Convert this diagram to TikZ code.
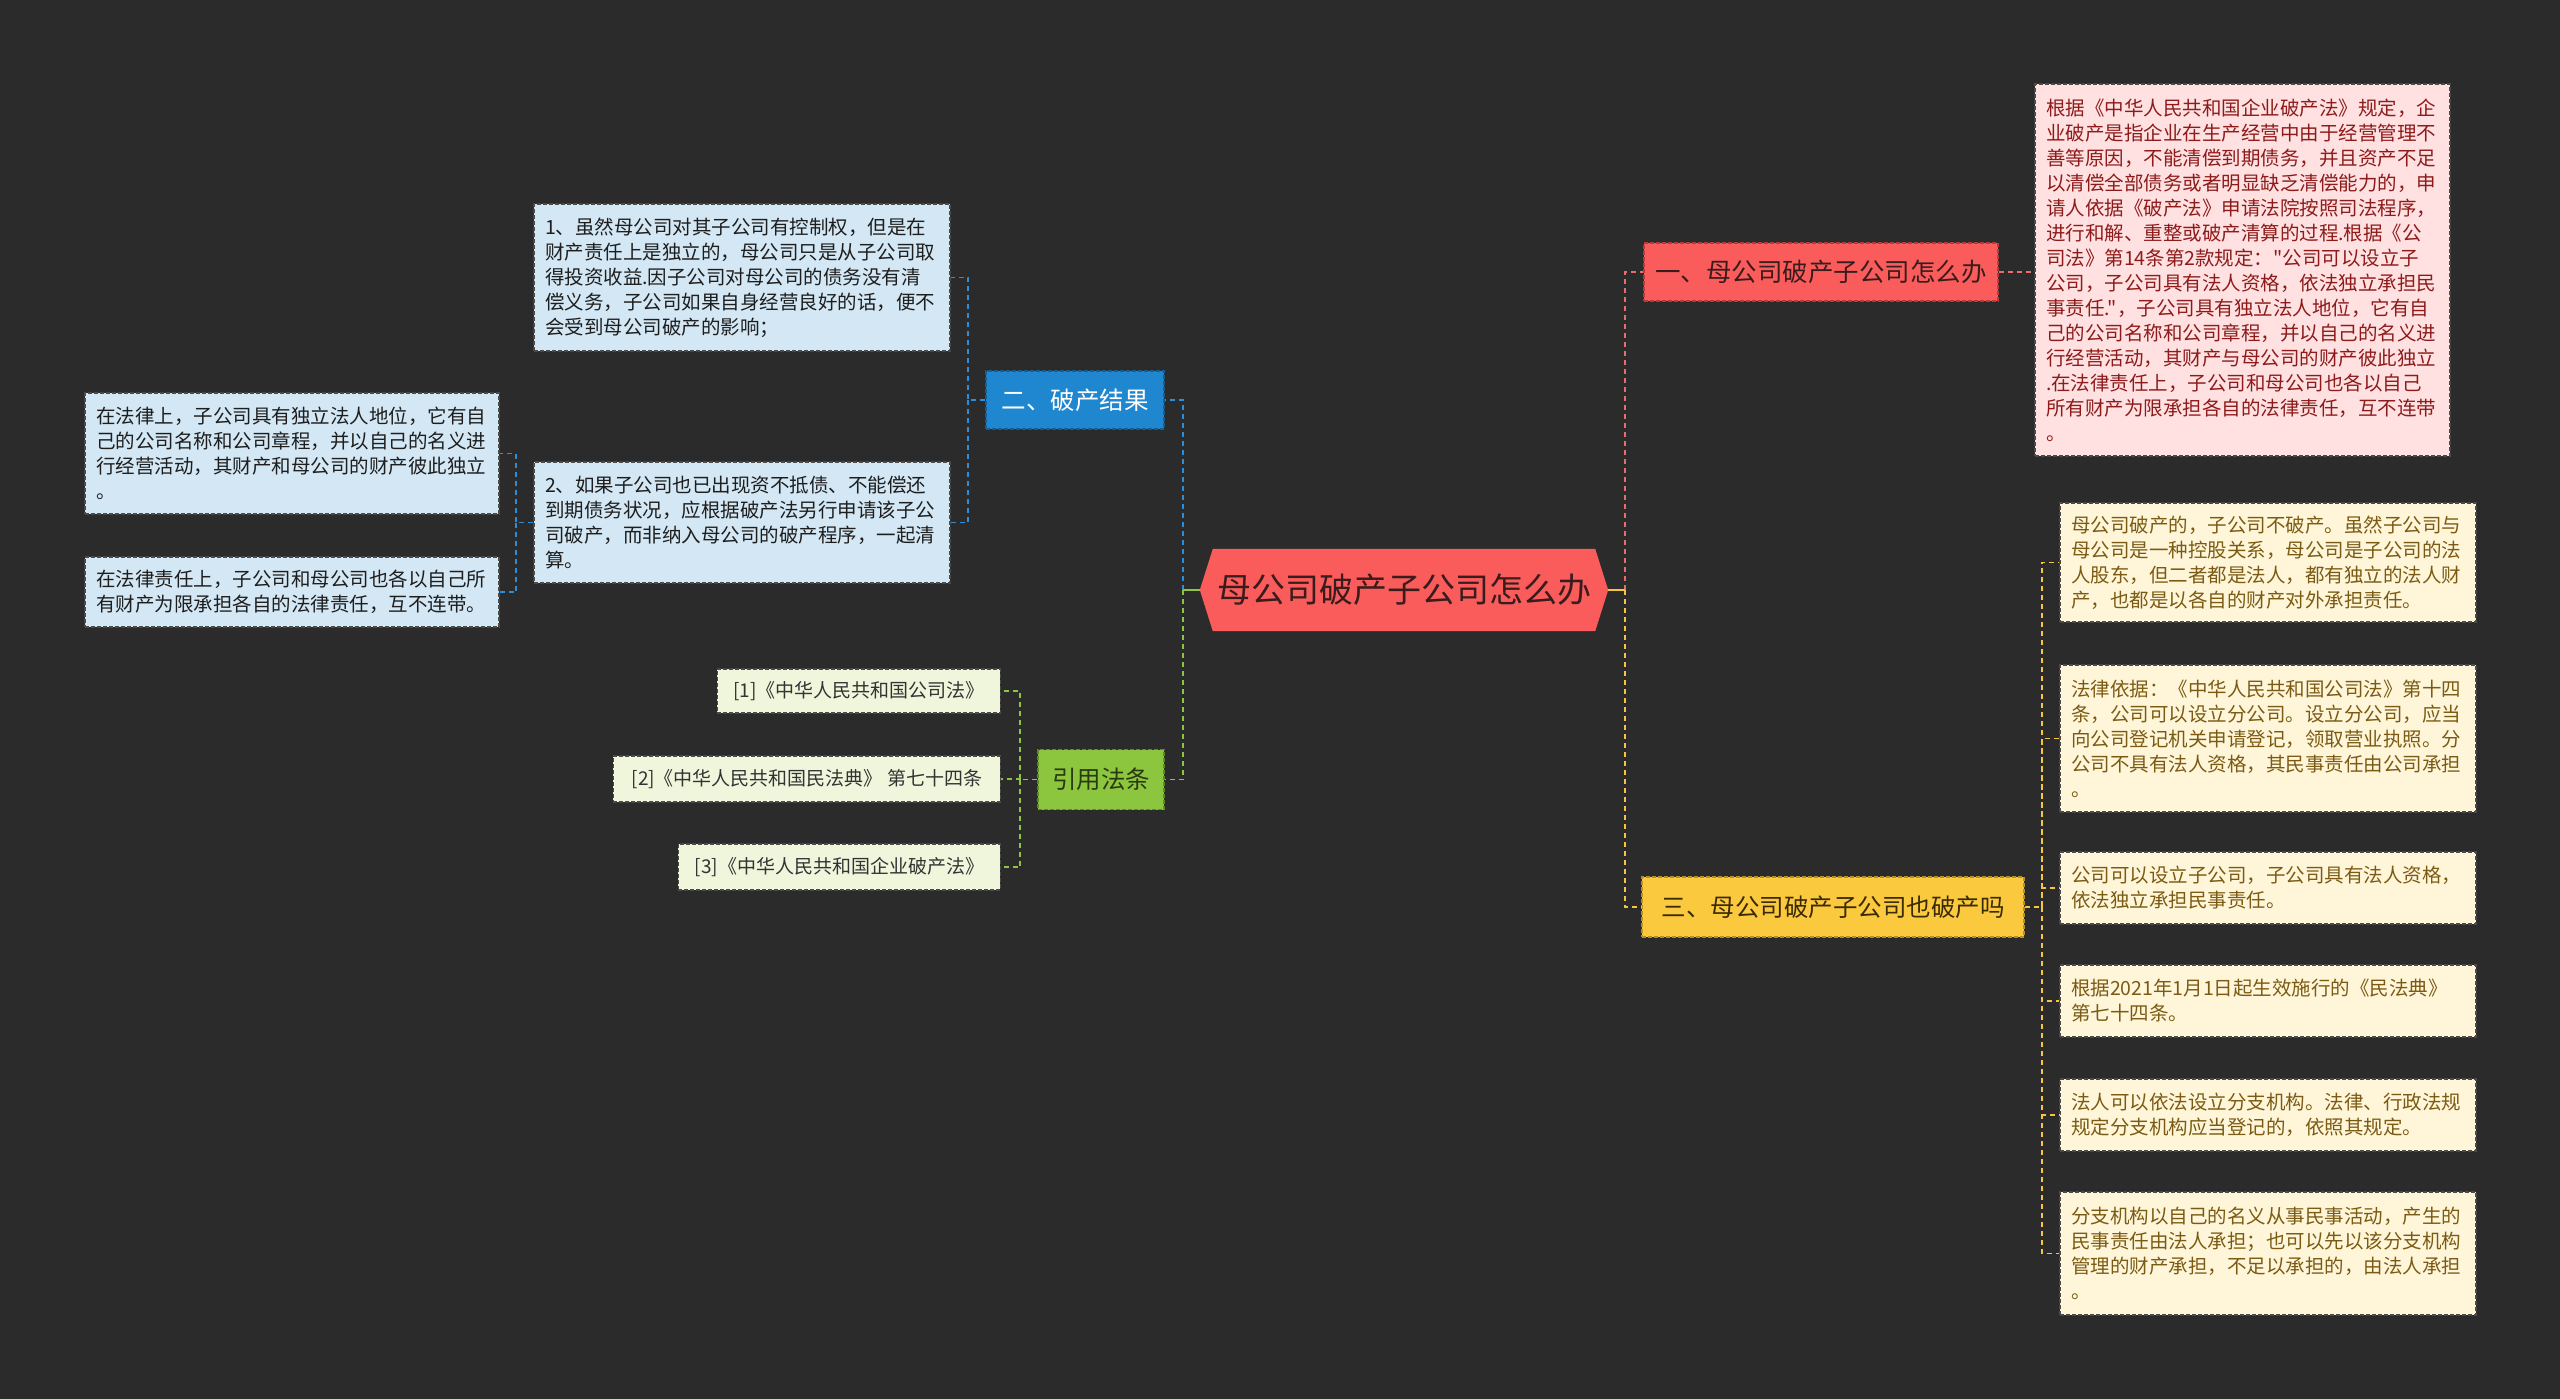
\documentclass[tikz,border=0pt]{standalone}
\usepackage{fontspec}
\setmainfont{Noto Sans CJK SC}[Ligatures=TeXOff]
\pgfdeclarelayer{bg}
\pgfdeclarelayer{hex}
\pgfsetlayers{bg,hex,main}
\definecolor{bgc}{HTML}{2B2B2B}
\definecolor{redfill}{HTML}{FA5C5C}
\definecolor{reddraw}{HTML}{B83A3A}
\definecolor{redtext}{HTML}{3A1C1C}
\definecolor{redline}{HTML}{E86E6E}
\definecolor{pinkfill}{HTML}{FFE1E1}
\definecolor{pinktext}{HTML}{8E1B1B}
\definecolor{bluefill}{HTML}{1E87CF}
\definecolor{bluedraw}{HTML}{145E92}
\definecolor{blueline}{HTML}{2A8FD8}
\definecolor{lbluefill}{HTML}{D3E7F4}
\definecolor{lbluetext}{HTML}{1E1E1E}
\definecolor{greenfill}{HTML}{8CC63F}
\definecolor{greendraw}{HTML}{5E8A22}
\definecolor{greentext}{HTML}{2A3A10}
\definecolor{greenline}{HTML}{8CC63F}
\definecolor{lgreenfill}{HTML}{EFF6DC}
\definecolor{lgreentext}{HTML}{333333}
\definecolor{yelfill}{HTML}{FBC93D}
\definecolor{yeldraw}{HTML}{B8901F}
\definecolor{yeltext}{HTML}{3A2A05}
\definecolor{yelline}{HTML}{F5C53F}
\definecolor{lyelfill}{HTML}{FFF6DA}
\definecolor{lyeltext}{HTML}{7B5B13}
\definecolor{boxdraw}{HTML}{4A4A4A}
\begin{document}
\begin{tikzpicture}[x=1pt,y=-1pt,
  central/.style={rectangle, inner sep=0pt, minimum width=408pt, minimum height=82pt, text=redtext, font=\fontsize{34}{40}\selectfont},
  branch/.style={rectangle, inner sep=0pt, line width=1.3pt, dash pattern=on 4pt off 2pt, font=\fontsize{24.5}{30}\selectfont},
  leaf/.style={rectangle, inner xsep=11pt, inner ysep=4pt, line width=1.2pt, dash pattern=on 4pt off 2pt, draw=boxdraw, font=\fontsize{19.5}{25}\selectfont, align=left, text width=394pt},
  pinkleaf/.style={leaf, fill=pinkfill, text=pinktext},
  blueleaf/.style={leaf, fill=lbluefill, text=lbluetext},
  yelleaf/.style={leaf, fill=lyelfill, text=lyeltext},
  greenleaf/.style={rectangle, inner xsep=4pt, inner ysep=4pt, line width=1.2pt, dash pattern=on 4pt off 2pt, draw=boxdraw, fill=lgreenfill, text=lgreentext, font=\fontsize{19}{25}\selectfont, anchor=east},
  link/.style={line width=1.8pt, dash pattern=on 5pt off 4pt}]
\begin{pgfonlayer}{bg}
\fill[bgc] (0,0) rectangle (2560,1399);
\end{pgfonlayer}

% central
\node[central] (c) at (1404,590) {母公司破产子公司怎么办};
\begin{pgfonlayer}{hex}
\fill[redfill] (c.west) -- ([xshift=13pt]c.north west) -- ([xshift=-13pt]c.north east) -- (c.east) -- ([xshift=-13pt]c.south east) -- ([xshift=13pt]c.south west) -- cycle;
\end{pgfonlayer}

% branches
\node[branch, fill=redfill, draw=reddraw, text=redtext, minimum width=354pt, minimum height=58pt, font=\fontsize{25.5}{30}\selectfont] (b1) at (1821,272) {一、母公司破产子公司怎么办};
\node[branch, fill=bluefill, draw=bluedraw, text=white, minimum width=178pt, minimum height=58pt] (b2) at (1075,400) {二、破产结果};
\node[branch, fill=greenfill, draw=greendraw, text=greentext, minimum width=126pt, minimum height=60pt] (b3) at (1101,779.5) {引用法条};
\node[branch, fill=yelfill, draw=yeldraw, text=yeltext, minimum width=382pt, minimum height=60pt] (b4) at (1833,907) {三、母公司破产子公司也破产吗};

% branch 1 leaf
\node[pinkleaf, text width=393pt, minimum height=372pt] (p) at (2242.5,270) {根据《中华人民共和国企业破产法》规定，企\\业破产是指企业在生产经营中由于经营管理不\\善等原因，不能清偿到期债务，并且资产不足\\以清偿全部债务或者明显缺乏清偿能力的，申\\请人依据《破产法》申请法院按照司法程序，\\进行和解、重整或破产清算的过程.根据《公\\司法》第14条第2款规定："公司可以设立子\\公司，子公司具有法人资格，依法独立承担民\\事责任."，子公司具有独立法人地位，它有自\\己的公司名称和公司章程，并以自己的名义进\\行经营活动，其财产与母公司的财产彼此独立\\.在法律责任上，子公司和母公司也各以自己\\所有财产为限承担各自的法律责任，互不连带\\。};

% branch 2 leaves
\node[blueleaf, minimum height=147pt] (c1) at (742,277.5) {1、虽然母公司对其子公司有控制权，但是在\\财产责任上是独立的，母公司只是从子公司取\\得投资收益.因子公司对母公司的债务没有清\\偿义务，子公司如果自身经营良好的话，便不\\会受到母公司破产的影响；};
\node[blueleaf, minimum height=121pt] (c2) at (742,522.5) {2、如果子公司也已出现资不抵债、不能偿还\\到期债务状况，应根据破产法另行申请该子公\\司破产，而非纳入母公司的破产程序，一起清\\算。};
\node[blueleaf, text width=392pt, minimum height=121pt] (ga) at (292,453.5) {在法律上，子公司具有独立法人地位，它有自\\己的公司名称和公司章程，并以自己的名义进\\行经营活动，其财产和母公司的财产彼此独立\\。};
\node[blueleaf, text width=392pt, minimum height=70pt] (gb) at (292,592) {在法律责任上，子公司和母公司也各以自己所\\有财产为限承担各自的法律责任，互不连带。};

% branch 3 leaves
\node[greenleaf, minimum width=283pt, minimum height=44pt] (g1) at (1001,691) {[1]《中华人民共和国公司法》};
\node[greenleaf, minimum width=387pt, minimum height=46pt] (g2) at (1001,779) {[2]《中华人民共和国民法典》 第七十四条};
\node[greenleaf, minimum width=322pt, minimum height=46pt] (g3) at (1001,867) {[3]《中华人民共和国企业破产法》};

% branch 4 leaves
\node[yelleaf, minimum height=119pt] (y1) at (2268,562.5) {母公司破产的，子公司不破产。虽然子公司与\\母公司是一种控股关系，母公司是子公司的法\\人股东，但二者都是法人，都有独立的法人财\\产，也都是以各自的财产对外承担责任。};
\node[yelleaf, minimum height=147pt] (y2) at (2268,738.5) {法律依据：《中华人民共和国公司法》第十四\\条，公司可以设立分公司。设立分公司，应当\\向公司登记机关申请登记，领取营业执照。分\\公司不具有法人资格，其民事责任由公司承担\\。};
\node[yelleaf, minimum height=72pt] (y3) at (2268,888) {公司可以设立子公司，子公司具有法人资格，\\依法独立承担民事责任。};
\node[yelleaf, minimum height=72pt] (y4) at (2268,1001) {根据2021年1月1日起生效施行的《民法典》\\第七十四条。};
\node[yelleaf, minimum height=72pt] (y5) at (2268,1115) {法人可以依法设立分支机构。法律、行政法规\\规定分支机构应当登记的，依照其规定。};
\node[yelleaf, minimum height=123pt] (y6) at (2268,1253.5) {分支机构以自己的名义从事民事活动，产生的\\民事责任由法人承担；也可以先以该分支机构\\管理的财产承担，不足以承担的，由法人承担\\。};

% connectors
\coordinate (jr) at (1625,590);
\coordinate (jl) at (1183,590);
\draw[link, redline] (jr) |- (b1.west);
\draw[link, yelline] (jr) |- (b4.west);
\draw[link, yelline, solid] (c.east) -- (jr);
\draw[link, blueline] (jl) |- (b2.east);
\draw[link, greenline] (jl) |- (b3.east);
\draw[link, greenline, solid] (c.west) -- (jl);
\draw[link, redline] (b1.east) -- (b1.east -| p.west);

\coordinate (j2) at (968,400);
\draw[link, blueline] (b2.west) -- (j2) |- (c1.east);
\draw[link, blueline] (j2) |- (c2.east);
\coordinate (j3) at (516,522.5);
\draw[link, blueline] (c2.west) -- (j3) |- (ga.east);
\draw[link, blueline] (j3) |- (gb.east);

\coordinate (j4) at (1020,779.5);
\draw[link, greenline] (b3.west) -- (j4) |- (g1.east);
\draw[link, greenline] (j4) |- (g2.east);
\draw[link, greenline] (j4) |- (g3.east);

\coordinate (j5) at (2042,907);
\draw[link, yelline] (b4.east) -- (j5) |- (y1.west);
\draw[link, yelline] (j5) |- (y2.west);
\draw[link, yelline] (j5) |- (y3.west);
\draw[link, yelline] (j5) |- (y4.west);
\draw[link, yelline] (j5) |- (y5.west);
\draw[link, yelline] (j5) |- (y6.west);
\end{tikzpicture}
\end{document}
